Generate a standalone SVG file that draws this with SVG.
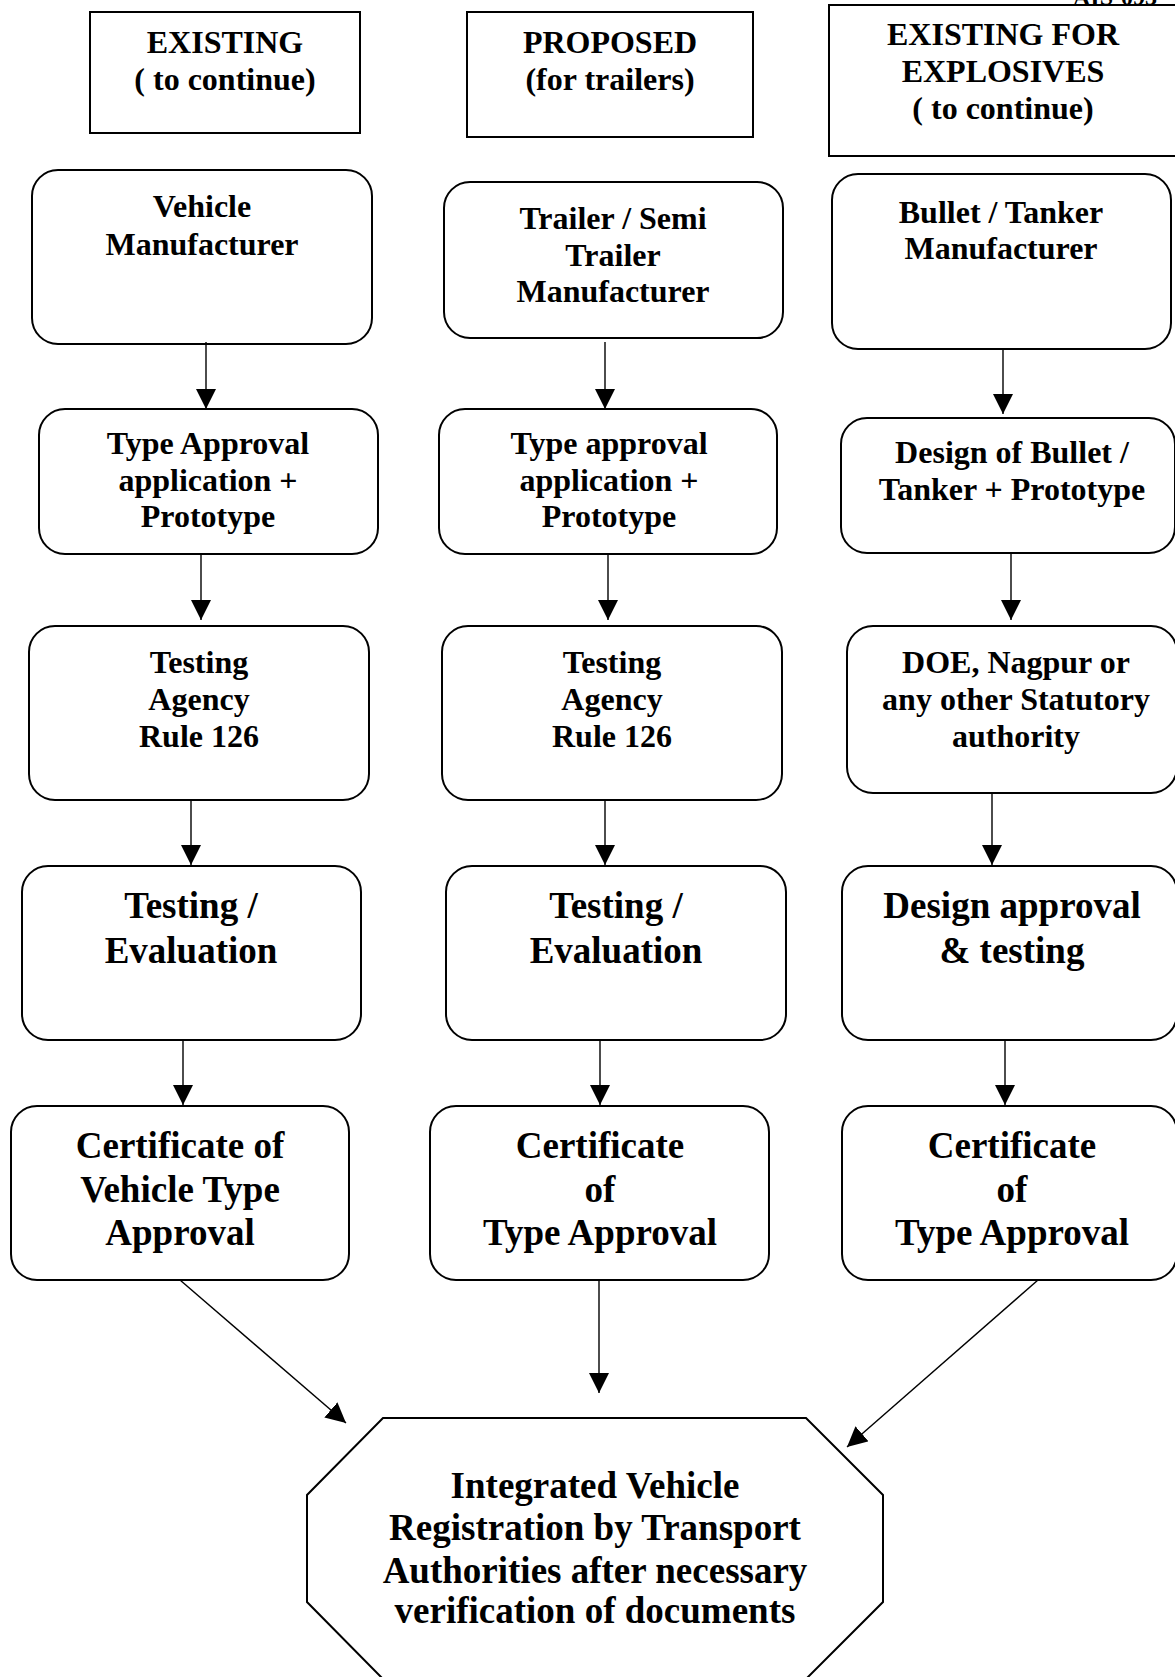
<svg xmlns="http://www.w3.org/2000/svg" width="1175" height="1677" viewBox="0 0 1175 1677">
<style>
.hdr{fill:#fff;stroke:#000;stroke-width:2}
.box{fill:#fff;stroke:#000;stroke-width:2}
.t{font-family:"Liberation Serif","Times New Roman",serif;font-weight:bold;font-size:32px;text-anchor:middle;fill:#000}
.big{font-size:37px}
.con{stroke:#000;stroke-width:1.4;fill:none;marker-end:url(#ah)}
</style>
<defs>
<marker id="ah" markerUnits="userSpaceOnUse" markerWidth="20" markerHeight="20" refX="20" refY="10" orient="auto">
<path d="M0,0 L20,10 L0,20 z" fill="#000"/>
</marker>
</defs>
<rect width="1175" height="1677" fill="#fff"/>
<text class="t" x="1073" y="5" style="text-anchor:start;font-size:24px">AIS-093</text>

<g id="h1"><rect class="hdr" x="90" y="12" width="270" height="121"/>
<text class="t" x="225" y="53">EXISTING</text><text class="t" x="225" y="90">( to continue)</text></g>
<g id="h2"><rect class="hdr" x="467" y="12" width="286" height="125"/>
<text class="t" x="610" y="53">PROPOSED</text><text class="t" x="610" y="90">(for trailers)</text></g>
<g id="h3"><rect class="hdr" x="829" y="5" width="350" height="151"/>
<text class="t" x="1003" y="45">EXISTING FOR</text><text class="t" x="1003" y="82">EXPLOSIVES</text><text class="t" x="1003" y="119">( to continue)</text></g>

<g id="a1"><rect class="box" x="32" y="170" width="340" height="174" rx="26"/>
<text class="t" x="202" y="217">Vehicle</text><text class="t" x="202" y="255">Manufacturer</text></g>
<g id="b1"><rect class="box" x="444" y="182" width="339" height="156" rx="26"/>
<text class="t" x="613" y="229">Trailer / Semi</text><text class="t" x="613" y="266">Trailer</text><text class="t" x="613" y="302">Manufacturer</text></g>
<g id="c1"><rect class="box" x="832" y="174" width="339" height="175" rx="26"/>
<text class="t" x="1001" y="223">Bullet / Tanker</text><text class="t" x="1001" y="259">Manufacturer</text></g>

<g id="a2"><rect class="box" x="39" y="409" width="339" height="145" rx="26"/>
<text class="t" x="208" y="454">Type Approval</text><text class="t" x="208" y="491">application +</text><text class="t" x="208" y="527">Prototype</text></g>
<g id="b2"><rect class="box" x="439" y="409" width="338" height="145" rx="26"/>
<text class="t" x="609" y="454">Type approval</text><text class="t" x="609" y="491">application +</text><text class="t" x="609" y="527">Prototype</text></g>
<g id="c2"><rect class="box" x="841" y="418" width="334" height="135" rx="26"/>
<text class="t" x="1012" y="463">Design of Bullet /</text><text class="t" x="1012" y="500">Tanker + Prototype</text></g>

<g id="a3"><rect class="box" x="29" y="626" width="340" height="174" rx="26"/>
<text class="t" x="199" y="673">Testing</text><text class="t" x="199" y="710">Agency</text><text class="t" x="199" y="747">Rule 126</text></g>
<g id="b3"><rect class="box" x="442" y="626" width="340" height="174" rx="26"/>
<text class="t" x="612" y="673">Testing</text><text class="t" x="612" y="710">Agency</text><text class="t" x="612" y="747">Rule 126</text></g>
<g id="c3"><rect class="box" x="847" y="626" width="330" height="167" rx="26"/>
<text class="t" x="1016" y="673">DOE, Nagpur or</text><text class="t" x="1016" y="710">any other Statutory</text><text class="t" x="1016" y="747">authority</text></g>

<g id="a4"><rect class="box" x="22" y="866" width="339" height="174" rx="26"/>
<text class="t big" x="191" y="918">Testing /</text><text class="t big" x="191" y="963">Evaluation</text></g>
<g id="b4"><rect class="box" x="446" y="866" width="340" height="174" rx="26"/>
<text class="t big" x="616" y="918">Testing /</text><text class="t big" x="616" y="963">Evaluation</text></g>
<g id="c4"><rect class="box" x="842" y="866" width="335" height="174" rx="26"/>
<text class="t big" x="1012" y="918">Design approval</text><text class="t big" x="1012" y="963">&amp; testing</text></g>

<g id="a5"><rect class="box" x="11" y="1106" width="338" height="174" rx="26"/>
<text class="t big" x="180" y="1158">Certificate of</text><text class="t big" x="180" y="1202">Vehicle Type</text><text class="t big" x="180" y="1245">Approval</text></g>
<g id="b5"><rect class="box" x="430" y="1106" width="339" height="174" rx="26"/>
<text class="t big" x="600" y="1158">Certificate</text><text class="t big" x="600" y="1202">of</text><text class="t big" x="600" y="1245">Type Approval</text></g>
<g id="c5"><rect class="box" x="842" y="1106" width="335" height="174" rx="26"/>
<text class="t big" x="1012" y="1158">Certificate</text><text class="t big" x="1012" y="1202">of</text><text class="t big" x="1012" y="1245">Type Approval</text></g>

<g id="final"><polygon class="box" points="383,1418 806,1418 883,1495 883,1602 806,1679 383,1679 307,1602 307,1495"/>
<text class="t big" x="595" y="1498">Integrated Vehicle</text><text class="t big" x="595" y="1540">Registration by Transport</text><text class="t big" x="595" y="1583">Authorities after necessary</text><text class="t big" x="595" y="1623">verification of documents</text></g>

<g id="connectors">
<line class="con" x1="206" y1="342" x2="206" y2="409"/>
<line class="con" x1="605" y1="342" x2="605" y2="409"/>
<line class="con" x1="1003" y1="348" x2="1003" y2="414"/>
<line class="con" x1="201" y1="554" x2="201" y2="620"/>
<line class="con" x1="608" y1="554" x2="608" y2="620"/>
<line class="con" x1="1011" y1="553" x2="1011" y2="620"/>
<line class="con" x1="191" y1="800" x2="191" y2="865"/>
<line class="con" x1="605" y1="800" x2="605" y2="865"/>
<line class="con" x1="992" y1="793" x2="992" y2="865"/>
<line class="con" x1="183" y1="1040" x2="183" y2="1105"/>
<line class="con" x1="600" y1="1040" x2="600" y2="1105"/>
<line class="con" x1="1005" y1="1040" x2="1005" y2="1105"/>
<line class="con" x1="180" y1="1280" x2="346" y2="1423"/>
<line class="con" x1="599" y1="1280" x2="599" y2="1393"/>
<line class="con" x1="1038" y1="1280" x2="847" y2="1447"/>
</g>
</svg>
